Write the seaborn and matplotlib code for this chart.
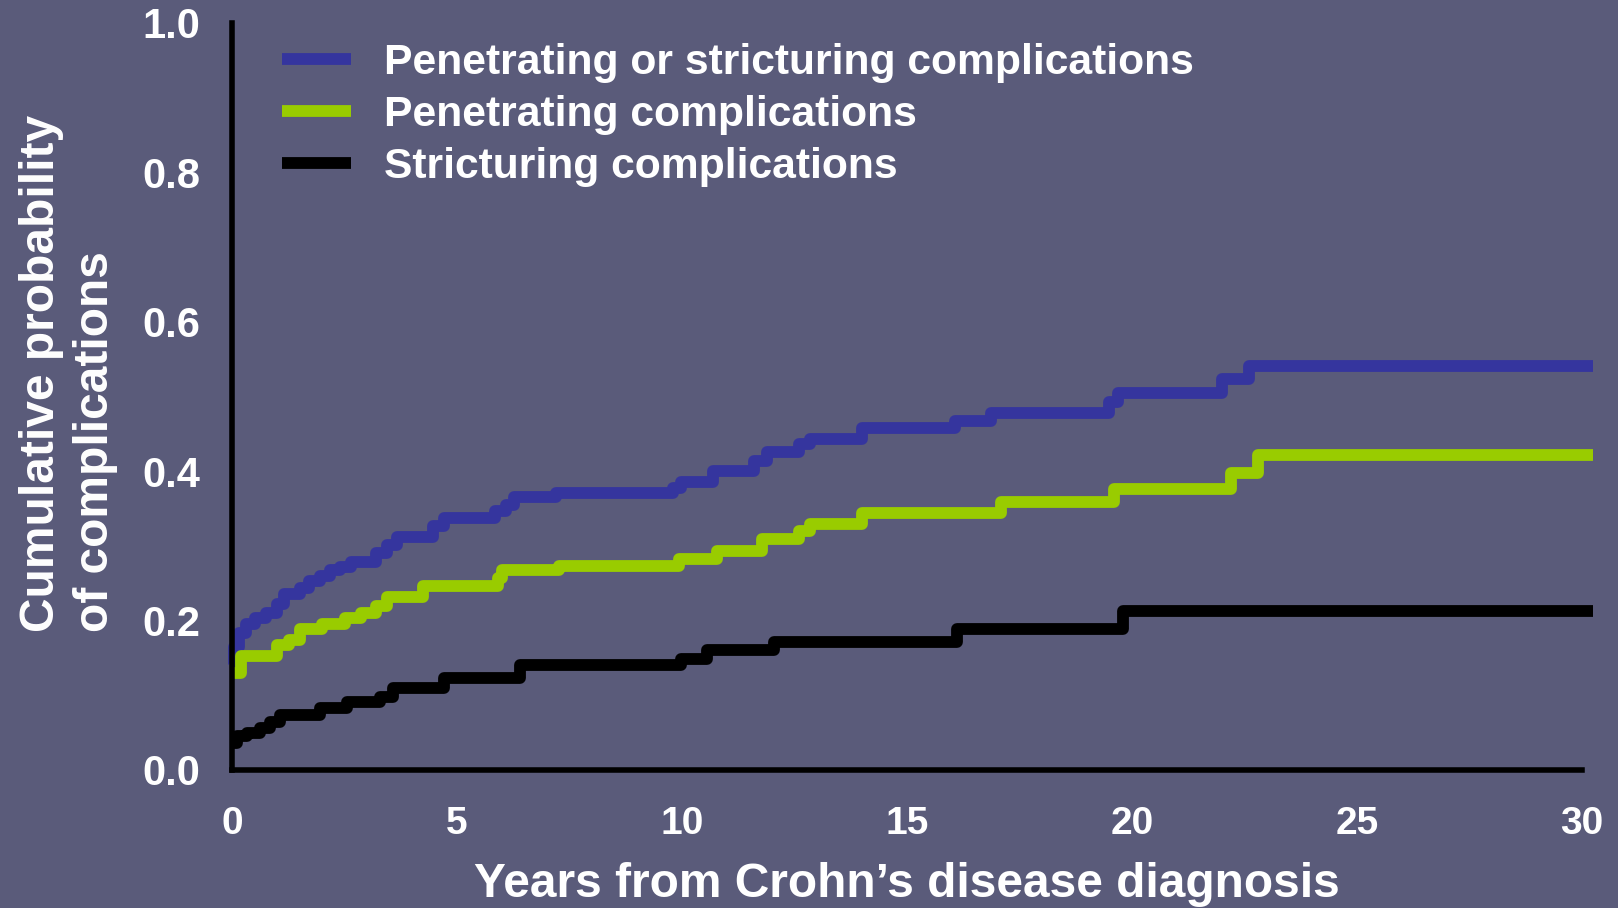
import numpy as np
import pandas as pd
import matplotlib
matplotlib.use("Agg")
import matplotlib.pyplot as plt
import seaborn as sns

# step points (time in years, cumulative probability)
blue_t = [0, 0.05, 0.15, 0.3, 0.5, 0.75, 1.0, 1.15, 1.5, 1.72, 1.95, 2.18, 2.4, 2.64, 3.2,
          3.44, 3.67, 4.47, 4.7, 5.85, 6.08, 6.26, 7.2, 9.8, 9.98, 10.7, 11.6, 11.9, 12.6,
          12.85, 14.0, 16.06, 16.86, 19.5, 19.7, 22.0, 22.6, 30.25]
blue_v = [0.14, 0.165, 0.183, 0.195, 0.204, 0.21, 0.222, 0.236, 0.243, 0.253, 0.26, 0.267,
          0.272, 0.278, 0.291, 0.301, 0.312, 0.326, 0.337, 0.347, 0.354, 0.365, 0.37, 0.378,
          0.385, 0.40, 0.414, 0.425, 0.436, 0.443, 0.457, 0.467, 0.478, 0.492, 0.505, 0.523,
          0.541, 0.541]

green_t = [0, 0.2, 1.0, 1.26, 1.5, 2.0, 2.5, 2.87, 3.2, 3.44, 4.24, 5.9, 6.0, 7.27, 9.93,
           10.78, 11.77, 12.6, 12.85, 14.0, 17.1, 19.6, 22.2, 22.8, 30.25]
green_v = [0.13, 0.153, 0.167, 0.174, 0.188, 0.195, 0.204, 0.21, 0.22, 0.232, 0.246, 0.257,
           0.267, 0.273, 0.282, 0.293, 0.309, 0.32, 0.329, 0.344, 0.358, 0.376, 0.398, 0.421,
           0.421]

black_t = [0, 0.1, 0.33, 0.62, 0.85, 1.07, 1.96, 2.55, 3.29, 3.58, 4.7, 6.4, 9.98, 10.55,
           12.04, 16.12, 19.8, 30.25]
black_v = [0.036, 0.045, 0.05, 0.056, 0.064, 0.073, 0.083, 0.091, 0.098, 0.11, 0.123, 0.14,
           0.149, 0.16, 0.171, 0.188, 0.213, 0.213]

labels = ["Penetrating or stricturing complications",
          "Penetrating complications",
          "Stricturing complications"]
colors = ["#35359E", "#99CC00", "#000000"]
x_ticks = [0, 5, 10, 15, 20, 25, 30]
y_ticks = [0.0, 0.2, 0.4, 0.6, 0.8, 1.0]

df = pd.concat([
    pd.DataFrame({"years": blue_t, "prob": blue_v, "group": labels[0]}),
    pd.DataFrame({"years": green_t, "prob": green_v, "group": labels[1]}),
    pd.DataFrame({"years": black_t, "prob": black_v, "group": labels[2]}),
])

bg = "#5A5B7A"
sns.set_style("white")
plt.rcParams["font.family"] = ["Liberation Sans", "DejaVu Sans"]
plt.rcParams["font.weight"] = "bold"

fig = plt.figure(figsize=(16.18, 9.08), dpi=100, facecolor=bg)
ax = fig.add_axes([0.1434, 0.152, 0.8343, 0.823])
ax.set_facecolor(bg)

sns.lineplot(data=df, x="years", y="prob", hue="group", hue_order=labels,
             palette=colors, drawstyle="steps-post", linewidth=8.5,
             solid_joinstyle="round", solid_capstyle="butt", clip_on=False,
             estimator=None, ax=ax)

ax.set_xlim(0, 30)
ax.set_ylim(0, 1.0)
ax.set_xticks(x_ticks)
ax.set_xticklabels([str(t) for t in x_ticks])
ax.set_yticks(y_ticks)
ax.set_yticklabels([f"{t:.1f}" for t in y_ticks])

for s in ["top", "right"]:
    ax.spines[s].set_visible(False)
for s in ["left", "bottom"]:
    ax.spines[s].set_color("black")
    ax.spines[s].set_linewidth(4)

ax.tick_params(axis="both", colors="black", width=3.1, length=12, direction="out",
               labelcolor="white")
ax.tick_params(axis="y", pad=11, labelsize=30)
ax.tick_params(axis="x", pad=14, labelsize=28)
for lab in ax.get_xticklabels() + ax.get_yticklabels():
    lab.set_fontweight("bold")

ax.set_xlabel("Years from Crohn\u2019s disease diagnosis", color="white",
              fontsize=34.5, fontweight="bold", labelpad=14)
ax.set_ylabel("Cumulative probability\nof complications", color="white",
              fontsize=34.5, fontweight="bold", multialignment="left",
              linespacing=1.25)
ax.yaxis.set_label_coords(-0.0844, 0.53)

leg = ax.legend(loc="upper left", bbox_to_anchor=(0.0215, 1.002), frameon=False,
                handlelength=1.6, handletextpad=0.78, labelspacing=0.29,
                borderpad=0, fontsize=30.7)
for txt in leg.get_texts():
    txt.set_color("white")
    txt.set_fontweight("bold")
for h in leg.get_lines():
    h.set_linewidth(8.5)

fig.savefig("out.png", dpi=100, facecolor=bg)
